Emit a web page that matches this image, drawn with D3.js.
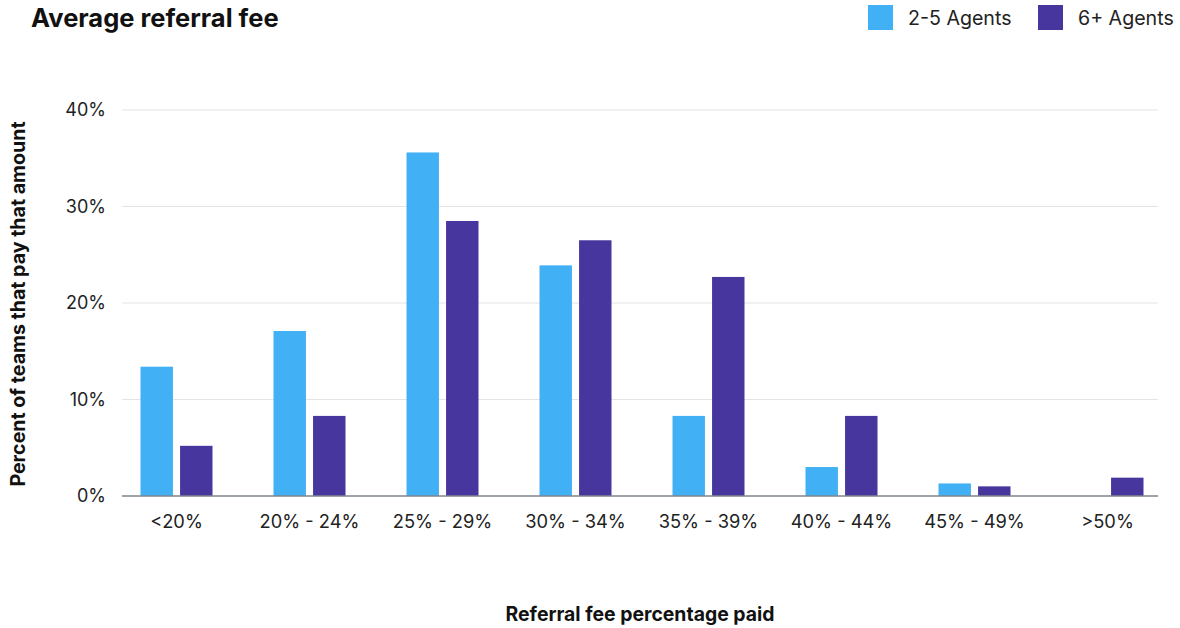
<!DOCTYPE html>
<html>
<head>
<meta charset="utf-8">
<script src="https://cdn.jsdelivr.net/npm/d3@7/dist/d3.min.js"></script>
<style>
  html, body { margin: 0; padding: 0; background: #fff; }
  svg { display: block; font-family: Inter, "Noto Sans", sans-serif; }
</style>
</head>
<body>
<svg id="chart" width="1180" height="628"></svg>
<script>
// Fee brackets and share of teams (percent) paying each
const categories = ["<20%", "20% - 24%", "25% - 29%", "30% - 34%", "35% - 39%", "40% - 44%", "45% - 49%", ">50%"];
const seriesNames = ["2-5 Agents", "6+ Agents"];
const smallTeams = [13.4, 17.1, 35.6, 23.9, 8.3, 3.0, 1.3, 0];
const largeTeams = [5.2, 8.3, 28.5, 26.5, 22.7, 8.3, 1.0, 1.9];
const yTicks = [0, 10, 20, 30, 40];
const colors = ["#42b0f5", "#47369e"];

const svg = d3.select("#chart");

const x = d3.scaleBand().domain(categories).range([110, 1174]);
const xInner = d3.scaleBand().domain(seriesNames).range([-36, 36]).paddingInner(0.18);
const y = d3.scaleLinear().domain([0, 40]).range([496, 110]);

const gridLeft = 122, gridRight = 1158;

// Horizontal gridlines
svg.append("g")
  .selectAll("line")
  .data(yTicks.filter(d => d > 0))
  .join("line")
  .attr("x1", gridLeft).attr("x2", gridRight)
  .attr("y1", d => y(d)).attr("y2", d => y(d))
  .attr("stroke", "#e4e4e6").attr("stroke-width", 1.2);

// Y tick labels
svg.append("g")
  .selectAll("text")
  .data(yTicks)
  .join("text")
  .attr("x", 106).attr("y", d => y(d))
  .attr("dy", "0.35em")
  .attr("text-anchor", "end")
  .attr("font-size", 18)
  .attr("fill", "#222")
  .text(d => d + "%");

// Bars
const rows = categories.map((c, i) => ({ cat: c, values: [smallTeams[i], largeTeams[i]] }));
const groups = svg.append("g")
  .selectAll("g")
  .data(rows)
  .join("g")
  .attr("transform", d => `translate(${x(d.cat) + x.bandwidth() / 2},0)`);

groups.selectAll("rect")
  .data(d => d.values.map((v, k) => ({ key: seriesNames[k], v, k })))
  .join("rect")
  .attr("x", d => xInner(d.key))
  .attr("width", xInner.bandwidth())
  .attr("y", d => y(d.v))
  .attr("height", d => y(0) - y(d.v))
  .attr("fill", d => colors[d.k]);

// Baseline
svg.append("line")
  .attr("x1", gridLeft).attr("x2", gridRight)
  .attr("y1", y(0)).attr("y2", y(0))
  .attr("stroke", "#7f868f").attr("stroke-width", 1.5);

// X category labels
svg.append("g")
  .selectAll("text")
  .data(categories)
  .join("text")
  .attr("x", d => x(d) + x.bandwidth() / 2)
  .attr("y", 522)
  .attr("dy", "0.35em")
  .attr("text-anchor", "middle")
  .attr("font-size", 18.3)
  .attr("fill", "#222")
  .text(d => d);

// Title
svg.append("text")
  .attr("x", 31).attr("y", 27)
  .attr("font-size", 25.5).attr("font-weight", 700)
  .attr("fill", "#111")
  .text("Average referral fee");

// Axis titles
svg.append("text")
  .attr("transform", `translate(25,${(y(0) + y(40)) / 2 + 1}) rotate(-90)`)
  .attr("text-anchor", "middle")
  .attr("font-size", 19.6).attr("font-weight", 700)
  .attr("fill", "#111")
  .text("Percent of teams that pay that amount");

svg.append("text")
  .attr("x", 640).attr("y", 621)
  .attr("text-anchor", "middle")
  .attr("font-size", 19.4).attr("font-weight", 700)
  .attr("fill", "#111")
  .text("Referral fee percentage paid");

// Legend
const legendX = [868, 1038];
const legend = svg.append("g")
  .selectAll("g")
  .data(seriesNames)
  .join("g")
  .attr("transform", (d, i) => `translate(${legendX[i]},5)`);
legend.append("rect")
  .attr("width", 25).attr("height", 25)
  .attr("fill", (d, i) => colors[i]);
legend.append("text")
  .attr("x", 40).attr("y", 13)
  .attr("dy", "0.35em")
  .attr("font-size", 19.6)
  .attr("fill", "#222")
  .text(d => d);
</script>
</body>
</html>
